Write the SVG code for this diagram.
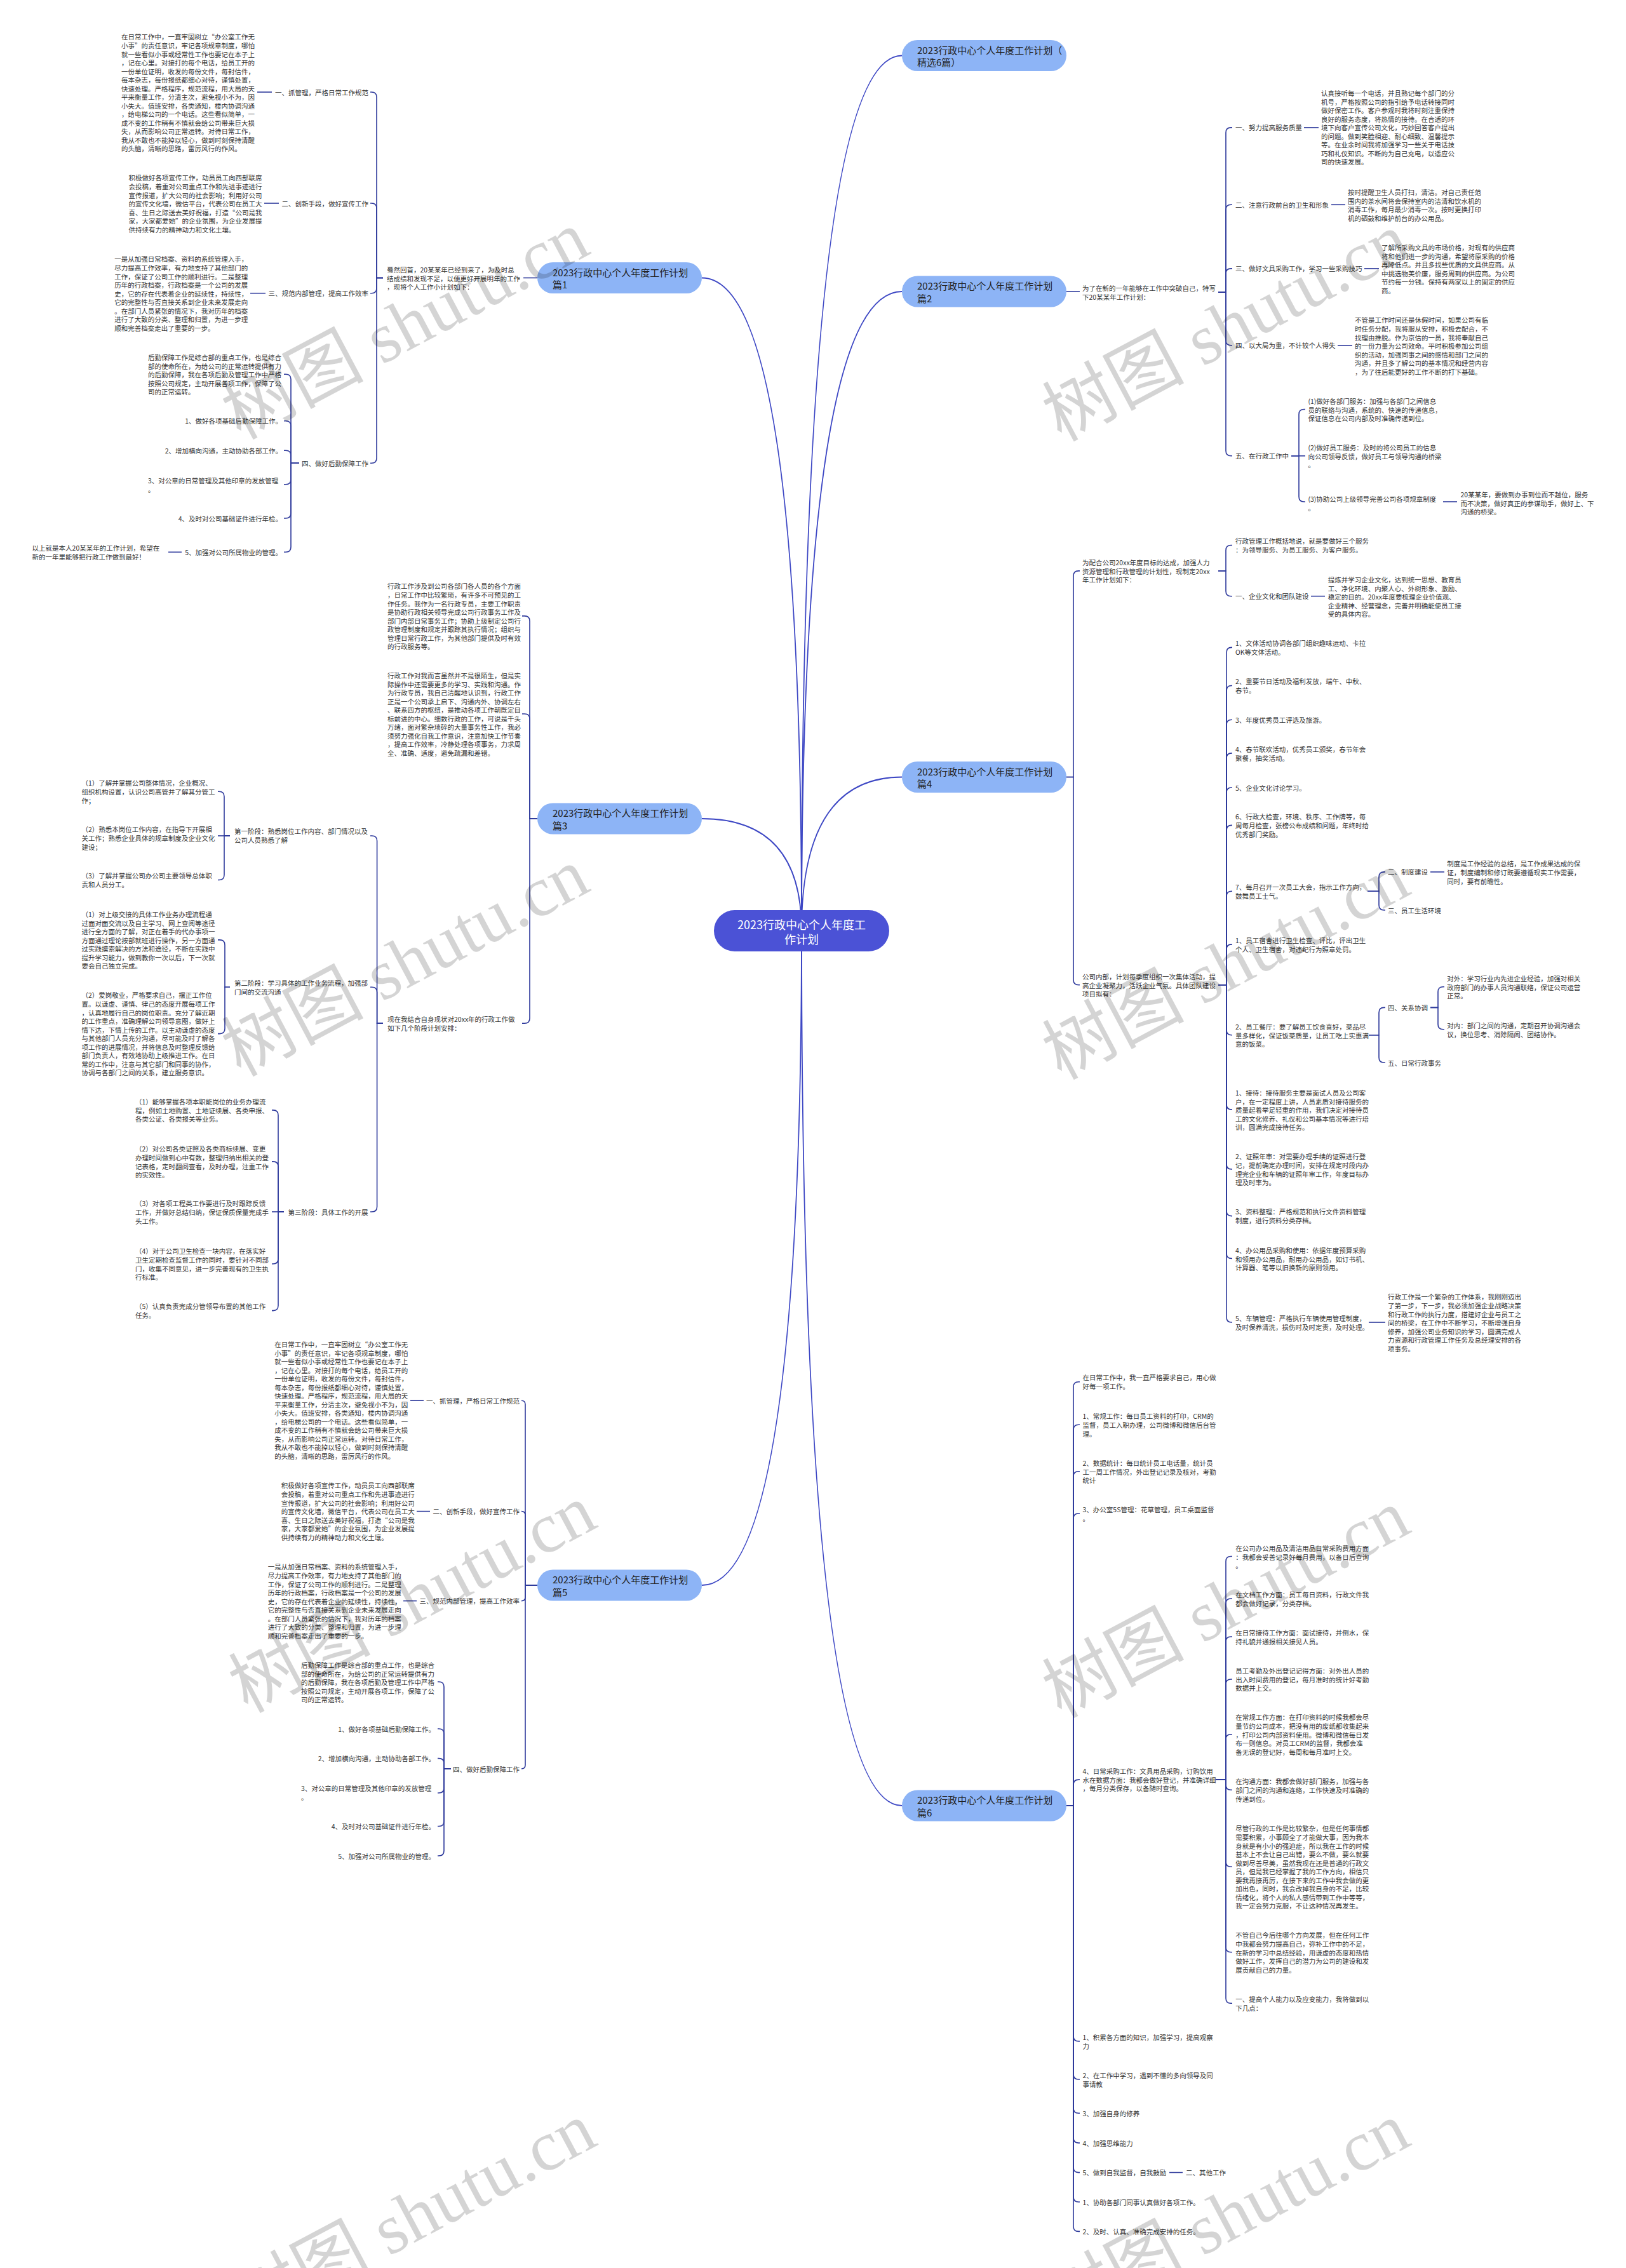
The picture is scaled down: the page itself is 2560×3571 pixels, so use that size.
<svg xmlns="http://www.w3.org/2000/svg" width="2560" height="3571" viewBox="0 0 2560 3571">
<style>
.t{font-family:"Noto Sans CJK SC","Liberation Sans",sans-serif;font-size:10.5px;fill:#333;dominant-baseline:central}
.e{text-anchor:end}
.c{fill:none;stroke:#2e3a9c;stroke-width:1.6}
.cc{fill:none;stroke:#3d47c4;stroke-width:1.8}
.pn{fill:#8db4f6}
.pt{font-family:"Noto Sans CJK SC","Liberation Sans",sans-serif;font-size:15px;fill:#222;dominant-baseline:central}
.ct{font-family:"Noto Sans CJK SC","Liberation Sans",sans-serif;font-size:18px;fill:#fff;dominant-baseline:central;text-anchor:middle}
.wm{font-family:"Liberation Serif","Noto Sans CJK SC",serif;font-size:112px;fill:#000;fill-opacity:0.17;text-anchor:middle;dominant-baseline:central}
</style>
<rect width="2560" height="3571" fill="#fff"/>
<g id="connectors">
<path class="cc" d="M1262,1465Q1262,87.5 1420,87.5"/>
<path class="cc" d="M1262,1465Q1262,459 1420,459"/>
<path class="cc" d="M1262,1465Q1262,1223.5 1420,1223.5"/>
<path class="cc" d="M1262,1465Q1262,2843 1420,2843"/>
<path class="cc" d="M1262,1465Q1262,437.5 1105,437.5"/>
<path class="cc" d="M1262,1465Q1262,1289 1105,1289"/>
<path class="cc" d="M1262,1465Q1262,2496 1105,2496"/>
<!-- plan1 -->
<path class="c" d="M846,437.5H824"/>
<path class="c" d="M603,437.5H593V153Q593,145 585,145H583"/>
<path class="c" d="M603,437.5H593V328Q593,320 585,320H583"/>
<path class="c" d="M603,437.5H593V453.7Q593,461.7 585,461.7H583"/>
<path class="c" d="M603,437.5H593V721.3Q593,729.3 585,729.3H583"/>
<path class="c" d="M428,145H405"/>
<path class="c" d="M439,320H416"/>
<path class="c" d="M418,461.7H394"/>
<path class="c" d="M471,729.3H458V597.3Q458,589.3 450,589.3H447"/>
<path class="c" d="M471,729.3H458V670.7Q458,662.7 450,662.7H447"/>
<path class="c" d="M471,729.3H458V717.3Q458,709.3 450,709.3H447"/>
<path class="c" d="M471,729.3H458V754.7Q458,762.7 450,762.7H447"/>
<path class="c" d="M471,729.3H458V808Q458,816 450,816H447"/>
<path class="c" d="M471,729.3H458V861.3Q458,869.3 450,869.3H447"/>
<path class="c" d="M286,869.3H265"/>
<!-- plan3 -->
<path class="c" d="M846,1289H834V977.9Q834,969.9 826,969.9H822"/>
<path class="c" d="M846,1289H834V1132Q834,1124 826,1124H822"/>
<path class="c" d="M846,1289H834V1603.3Q834,1611.3 826,1611.3H822"/>
<path class="c" d="M603,1611.3H593.6V1324Q593.6,1316 585.6,1316H583"/>
<path class="c" d="M603,1611.3H593.6V1562.2Q593.6,1554.2 585.6,1554.2H583"/>
<path class="c" d="M603,1611.3H593.6V1900Q593.6,1908 585.6,1908H583"/>
<path class="c" d="M362,1316H353V1254.2Q353,1246.2 345,1246.2H343"/>
<path class="c" d="M362,1316H343"/>
<path class="c" d="M362,1316H353V1377.5Q353,1385.5 345,1385.5H343"/>
<path class="c" d="M362,1554.2H354V1487.9Q354,1479.9 346,1479.9H343"/>
<path class="c" d="M362,1554.2H354V1619.6Q354,1627.6 346,1627.6H343"/>
<path class="c" d="M447,1908H438V1755.9Q438,1747.9 430,1747.9H428"/>
<path class="c" d="M447,1908H438V1836.9Q438,1828.9 430,1828.9H428"/>
<path class="c" d="M447,1908H428"/>
<path class="c" d="M447,1908H438V1982Q438,1990 430,1990H428"/>
<path class="c" d="M447,1908H438V2055.6Q438,2063.6 430,2063.6H428"/>
<!-- plan5 -->
<path class="c" d="M846,2496H827V2211.2Q827,2205.2 821,2205.2"/>
<path class="c" d="M846,2496H827V2385.6Q827,2379.6 821,2379.6"/>
<path class="c" d="M846,2496H827V2514.6Q827,2520.6 821,2520.6"/>
<path class="c" d="M846,2496H827V2779Q827,2785 821,2785"/>
<path class="c" d="M667,2205.2H646"/>
<path class="c" d="M677,2379.6H656"/>
<path class="c" d="M656,2520.6H635"/>
<path class="c" d="M710,2785H699V2656Q699,2648 691,2648H689"/>
<path class="c" d="M710,2785H699V2730Q699,2722 691,2722H689"/>
<path class="c" d="M710,2785H699V2776.6Q699,2768.6 691,2768.6H689"/>
<path class="c" d="M710,2785H699V2815Q699,2823 691,2823H689"/>
<path class="c" d="M710,2785H699V2867.5Q699,2875.5 691,2875.5H689"/>
<path class="c" d="M710,2785H699V2914Q699,2922 691,2922H689"/>
<!-- plan2 -->
<path class="c" d="M1679,459H1700"/>
<path class="c" d="M1918,460H1930V208.9Q1930,200.9 1938,200.9H1940"/>
<path class="c" d="M1918,460H1930V330.3Q1930,322.3 1938,322.3H1940"/>
<path class="c" d="M1918,460H1930V430.9Q1930,422.9 1938,422.9H1940"/>
<path class="c" d="M1918,460H1930V535.8Q1930,543.8 1938,543.8H1940"/>
<path class="c" d="M1918,460H1930V709.8Q1930,717.8 1938,717.8H1940"/>
<path class="c" d="M2053,200.9H2076"/>
<path class="c" d="M2096,322.3H2118"/>
<path class="c" d="M2148,422.9H2171"/>
<path class="c" d="M2106,543.8H2129"/>
<path class="c" d="M2033,717.8H2045V652.5Q2045,644.5 2053,644.5H2055"/>
<path class="c" d="M2033,717.8H2055"/>
<path class="c" d="M2033,717.8H2045V782Q2045,790 2053,790H2055"/>
<path class="c" d="M2272,790H2294"/>
<!-- plan4 -->
<path class="c" d="M1679,1223.5H1690V906.9Q1690,898.9 1698,898.9H1700"/>
<path class="c" d="M1679,1223.5H1690V1542.8Q1690,1550.8 1698,1550.8H1700"/>
<path class="c" d="M1918,898.9H1930V866.5Q1930,858.5 1938,858.5H1940"/>
<path class="c" d="M1918,898.9H1930V930.7Q1930,938.7 1938,938.7H1940"/>
<path class="c" d="M2064,938.7H2086"/>
<path class="c" d="M1918,1550.8H1931V1027.4Q1931,1019.4 1939,1019.4H1940"/>
<path class="c" d="M1918,1550.8H1931V1087.5Q1931,1079.5 1939,1079.5H1940"/>
<path class="c" d="M1918,1550.8H1931V1141.3Q1931,1133.3 1939,1133.3H1940"/>
<path class="c" d="M1918,1550.8H1931V1193.9Q1931,1185.9 1939,1185.9H1940"/>
<path class="c" d="M1918,1550.8H1931V1248Q1931,1240 1939,1240H1940"/>
<path class="c" d="M1918,1550.8H1931V1307.4Q1931,1299.4 1939,1299.4H1940"/>
<path class="c" d="M1918,1550.8H1931V1411.3Q1931,1403.3 1939,1403.3H1940"/>
<path class="c" d="M1918,1550.8H1931V1494.9Q1931,1486.9 1939,1486.9H1940"/>
<path class="c" d="M1918,1550.8H1931V1621.7Q1931,1629.7 1939,1629.7H1940"/>
<path class="c" d="M1918,1550.8H1931V1739.1Q1931,1747.1 1939,1747.1H1940"/>
<path class="c" d="M1918,1550.8H1931V1832.9Q1931,1840.9 1939,1840.9H1940"/>
<path class="c" d="M1918,1550.8H1931V1906.6Q1931,1914.6 1939,1914.6H1940"/>
<path class="c" d="M1918,1550.8H1931V1973.5Q1931,1981.5 1939,1981.5H1940"/>
<path class="c" d="M1918,1550.8H1931V2074Q1931,2082 1939,2082H1940"/>
<path class="c" d="M2153,1403.3H2171V1380.9Q2171,1372.9 2179,1372.9H2181"/>
<path class="c" d="M2153,1403.3H2171V1425Q2171,1433 2179,1433H2181"/>
<path class="c" d="M2252,1372.9H2274"/>
<path class="c" d="M2155,1629.7H2171V1594.4Q2171,1586.4 2179,1586.4H2181"/>
<path class="c" d="M2155,1629.7H2171V1665Q2171,1673 2179,1673H2181"/>
<path class="c" d="M2252,1586.4H2264V1561.8Q2264,1553.8 2272,1553.8H2274"/>
<path class="c" d="M2252,1586.4H2264V1612.8Q2264,1620.8 2272,1620.8H2274"/>
<path class="c" d="M2155,2082H2181"/>
<!-- plan6 -->
<path class="c" d="M1679,2843H1690V2183.8Q1690,2175.8 1698,2175.8H1700"/>
<path class="c" d="M1679,2843H1690V2251.3Q1690,2243.3 1698,2243.3H1700"/>
<path class="c" d="M1679,2843H1690V2324.8Q1690,2316.8 1698,2316.8H1700"/>
<path class="c" d="M1679,2843H1690V2391Q1690,2383 1698,2383H1700"/>
<path class="c" d="M1679,2843H1690V2810.1Q1690,2802.1 1698,2802.1H1700"/>
<path class="c" d="M1679,2843H1690V3206Q1690,3214 1698,3214H1700"/>
<path class="c" d="M1679,2843H1690V3266Q1690,3274 1698,3274H1700"/>
<path class="c" d="M1679,2843H1690V3319.2Q1690,3327.2 1698,3327.2H1700"/>
<path class="c" d="M1679,2843H1690V3366.1Q1690,3374.1 1698,3374.1H1700"/>
<path class="c" d="M1679,2843H1690V3412.6Q1690,3420.6 1698,3420.6H1700"/>
<path class="c" d="M1679,2843H1690V3459Q1690,3467 1698,3467H1700"/>
<path class="c" d="M1679,2843H1690V3505.4Q1690,3513.4 1698,3513.4H1700"/>
<path class="c" d="M1914,2802.1H1930V2458.5Q1930,2450.5 1938,2450.5H1940"/>
<path class="c" d="M1914,2802.1H1930V2525Q1930,2517 1938,2517H1940"/>
<path class="c" d="M1914,2802.1H1930V2585Q1930,2577 1938,2577H1940"/>
<path class="c" d="M1914,2802.1H1930V2652Q1930,2644 1938,2644H1940"/>
<path class="c" d="M1914,2802.1H1930V2738.8Q1930,2730.8 1938,2730.8H1940"/>
<path class="c" d="M1914,2802.1H1930V2810.3Q1930,2818.3 1938,2818.3H1940"/>
<path class="c" d="M1914,2802.1H1930V2931.3Q1930,2939.3 1938,2939.3H1940"/>
<path class="c" d="M1914,2802.1H1930V3065.8Q1930,3073.8 1938,3073.8H1940"/>
<path class="c" d="M1914,2802.1H1930V3146.3Q1930,3154.3 1938,3154.3H1940"/>
<path class="c" d="M1841,3420.6H1862"/>
</g>

<g id="center">
<rect x="1124" y="1433" width="276" height="65" rx="32.5" fill="#4b52d6"/>
<text class="ct" x="1262" y="1454.5">2023行政中心个人年度工<tspan x="1262" dy="23">作计划</tspan></text>
</g>

<g id="plan0"><rect class="pn" x="1420" y="63" width="259" height="49" rx="24.5"/><text class="pt" x="1444" y="78">2023行政中心个人年度工作计划（<tspan x="1444" dy="19">精选6篇）</tspan></text></g>
<g id="plan2"><rect class="pn" x="1420" y="434.5" width="259" height="49" rx="24.5"/><text class="pt" x="1444" y="449.5">2023行政中心个人年度工作计划<tspan x="1444" dy="19">篇2</tspan></text></g>
<g id="plan4"><rect class="pn" x="1420" y="1199" width="259" height="49" rx="24.5"/><text class="pt" x="1444" y="1214">2023行政中心个人年度工作计划<tspan x="1444" dy="19">篇4</tspan></text></g>
<g id="plan6"><rect class="pn" x="1420" y="2818.5" width="259" height="49" rx="24.5"/><text class="pt" x="1444" y="2833.5">2023行政中心个人年度工作计划<tspan x="1444" dy="19">篇6</tspan></text></g>
<g id="plan1"><rect class="pn" x="846" y="413" width="259" height="49" rx="24.5"/><text class="pt" x="870" y="428">2023行政中心个人年度工作计划<tspan x="870" dy="19">篇1</tspan></text></g>
<g id="plan3"><rect class="pn" x="846" y="1264.5" width="259" height="49" rx="24.5"/><text class="pt" x="870" y="1279.5">2023行政中心个人年度工作计划<tspan x="870" dy="19">篇3</tspan></text></g>
<g id="plan5"><rect class="pn" x="846" y="2471.5" width="259" height="49" rx="24.5"/><text class="pt" x="870" y="2486.5">2023行政中心个人年度工作计划<tspan x="870" dy="19">篇5</tspan></text></g>

<!-- plan1 texts -->
<g id="p1-intro"><text class="t" x="609" y="424">蓦然回首，20某某年已经到来了，为及时总<tspan x="609" dy="13.5">结成绩和发现不足，以便更好开展明年的工作</tspan><tspan x="609" dy="13.5">，现将个人工作小计划如下：</tspan></text></g>
<g id="p1-a"><text class="t e" x="580" y="145">一、抓管理，严格日常工作规范</text></g>
<g id="p1-a1"><text class="t" x="191" y="57.5">在日常工作中，一直牢固树立“办公室工作无<tspan x="191" dy="13.5">小事”的责任意识，牢记各项规章制度，哪怕</tspan><tspan x="191" dy="13.5">就一些看似小事或经常性工作也要记在本子上</tspan><tspan x="191" dy="13.5">，记在心里。对接打的每个电话，给员工开的</tspan><tspan x="191" dy="13.5">一份单位证明，收发的每份文件，每封信件，</tspan><tspan x="191" dy="13.5">每本杂志，每份报纸都细心对待，谨慎处置，</tspan><tspan x="191" dy="13.5">快速处理。严格程序，规范流程，用大局的天</tspan><tspan x="191" dy="13.5">平来衡量工作，分清主次，避免视小不为，因</tspan><tspan x="191" dy="13.5">小失大。值班安排，各类通知，楼内协调沟通</tspan><tspan x="191" dy="13.5">，给电梯公司的一个电话。这些看似简单，一</tspan><tspan x="191" dy="13.5">成不变的工作稍有不慎就会给公司带来巨大损</tspan><tspan x="191" dy="13.5">失，从而影响公司正常运转。对待日常工作，</tspan><tspan x="191" dy="13.5">我从不敢也不能掉以轻心，做到时刻保持清醒</tspan><tspan x="191" dy="13.5">的头脑，清晰的思路，雷厉风行的作风。</tspan></text></g>
<g id="p1-b"><text class="t e" x="580" y="320">二、创新手段，做好宣传工作</text></g>
<g id="p1-b1"><text class="t" x="202.5" y="279.5">积极做好各项宣传工作，动员员工向西部联席<tspan x="202.5" dy="13.5">会投稿，着重对公司重点工作和先进事迹进行</tspan><tspan x="202.5" dy="13.5">宣传报道，扩大公司的社会影响；利用好公司</tspan><tspan x="202.5" dy="13.5">的宣传文化墙，微信平台，代表公司在员工大</tspan><tspan x="202.5" dy="13.5">喜、生日之际送去美好祝福，打造“公司是我</tspan><tspan x="202.5" dy="13.5">家，大家都爱她”的企业氛围，为企业发展提</tspan><tspan x="202.5" dy="13.5">供持续有力的精神动力和文化土壤。</tspan></text></g>
<g id="p1-c"><text class="t e" x="580" y="461.7">三、规范内部管理，提高工作效率</text></g>
<g id="p1-c1"><text class="t" x="180.3" y="407.7">一是从加强日常档案、资料的系统管理入手，<tspan x="180.3" dy="13.5">尽力提高工作效率，有力地支持了其他部门的</tspan><tspan x="180.3" dy="13.5">工作，保证了公司工作的顺利进行。二是整理</tspan><tspan x="180.3" dy="13.5">历年的行政档案，行政档案是一个公司的发展</tspan><tspan x="180.3" dy="13.5">史，它的存在代表着企业的延续性，持续性，</tspan><tspan x="180.3" dy="13.5">它的完整性与否直接关系到企业未来发展走向</tspan><tspan x="180.3" dy="13.5">。在部门人员紧张的情况下，我对历年的档案</tspan><tspan x="180.3" dy="13.5">进行了大致的分类、整理和归置，为进一步理</tspan><tspan x="180.3" dy="13.5">顺和完善档案走出了重要的一步。</tspan></text></g>
<g id="p1-d"><text class="t e" x="580" y="729.3">四、做好后勤保障工作</text></g>
<g id="p1-d0"><text class="t" x="233" y="562.3">后勤保障工作是综合部的重点工作，也是综合<tspan x="233" dy="13.5">部的使命所在，为给公司的正常运转提供有力</tspan><tspan x="233" dy="13.5">的后勤保障，我在各项后勤及管理工作中严格</tspan><tspan x="233" dy="13.5">按照公司规定，主动开展各项工作，保障了公</tspan><tspan x="233" dy="13.5">司的正常运转。</tspan></text></g>
<g id="p1-d1"><text class="t e" x="444" y="662.7">1、做好各项基础后勤保障工作。</text></g>
<g id="p1-d2"><text class="t e" x="444" y="709.3">2、增加横向沟通，主动协助各部工作。</text></g>
<g id="p1-d3"><text class="t" x="233" y="756">3、对公章的日常管理及其他印章的发放管理<tspan x="233" dy="13.5">。</tspan></text></g>
<g id="p1-d4"><text class="t e" x="444" y="816">4、及时对公司基础证件进行年检。</text></g>
<g id="p1-d5"><text class="t e" x="444" y="869.3">5、加强对公司所属物业的管理。</text></g>
<g id="p1-end"><text class="t" x="50.6" y="862.7">以上就是本人20某某年的工作计划，希望在<tspan x="50.6" dy="13.5">新的一年里能够把行政工作做到最好！</tspan></text></g>

<!-- plan3 texts -->
<g id="p3-a"><text class="t" x="610" y="922.7">行政工作涉及到公司各部门各人员的各个方面<tspan x="610" dy="13.5">，日常工作中比较繁琐，有许多不可预见的工</tspan><tspan x="610" dy="13.5">作任务。我作为一名行政专员，主要工作职责</tspan><tspan x="610" dy="13.5">是协助行政相关领导完成公司行政事务工作及</tspan><tspan x="610" dy="13.5">部门内部日常事务工作；协助上级制定公司行</tspan><tspan x="610" dy="13.5">政管理制度和规定并跟踪其执行情况；组织与</tspan><tspan x="610" dy="13.5">管理日常行政工作，为其他部门提供及时有效</tspan><tspan x="610" dy="13.5">的行政服务等。</tspan></text></g>
<g id="p3-b"><text class="t" x="610" y="1063.3">行政工作对我而言虽然并不是很陌生，但是实<tspan x="610" dy="13.5">际操作中还需要更多的学习、实践和沟通。作</tspan><tspan x="610" dy="13.5">为行政专员，我自己清醒地认识到，行政工作</tspan><tspan x="610" dy="13.5">正是一个公司承上启下、沟通内外、协调左右</tspan><tspan x="610" dy="13.5">、联系四方的枢纽，是推动各项工作朝既定目</tspan><tspan x="610" dy="13.5">标前进的中心。细数行政的工作，可说是千头</tspan><tspan x="610" dy="13.5">万绪，面对繁杂琐碎的大量事务性工作，我必</tspan><tspan x="610" dy="13.5">须努力强化自我工作意识，注意加快工作节奏</tspan><tspan x="610" dy="13.5">，提高工作效率，冷静处理各项事务，力求周</tspan><tspan x="610" dy="13.5">全、准确、适度，避免疏漏和差错。</tspan></text></g>
<g id="p3-c"><text class="t" x="610" y="1604.6">现在我结合自身现状对20xx年的行政工作做<tspan x="610" dy="13.5">如下几个阶段计划安排：</tspan></text></g>
<g id="p3-s1"><text class="t" x="369" y="1308.5">第一阶段：熟悉岗位工作内容、部门情况以及<tspan x="369" dy="13.5">公司人员熟悉了解</tspan></text></g>
<g id="p3-s1a"><text class="t" x="128.5" y="1232.7">（1）了解并掌握公司整体情况，企业概况、<tspan x="128.5" dy="13.5">组织机构设置，认识公司高管并了解其分管工</tspan><tspan x="128.5" dy="13.5">作；</tspan></text></g>
<g id="p3-s1b"><text class="t" x="128.5" y="1305.5">（2）熟悉本岗位工作内容，在指导下开展相<tspan x="128.5" dy="13.5">关工作；熟悉企业具体的规章制度及企业文化</tspan><tspan x="128.5" dy="13.5">建设；</tspan></text></g>
<g id="p3-s1c"><text class="t" x="128.5" y="1378.7">（3）了解并掌握公司办公司主要领导总体职<tspan x="128.5" dy="13.5">责和人员分工。</tspan></text></g>
<g id="p3-s2"><text class="t" x="369" y="1547.4">第二阶段：学习具体的工作业务流程，加强部<tspan x="369" dy="13.5">门间的交流沟通</tspan></text></g>
<g id="p3-s2a"><text class="t" x="128.5" y="1439.4">（1）对上级交接的具体工作业务办理流程通<tspan x="128.5" dy="13.5">过面对面交流以及自主学习、网上查阅等途径</tspan><tspan x="128.5" dy="13.5">进行全方面的了解，对正在着手的代办事项一</tspan><tspan x="128.5" dy="13.5">方面通过理论按部就班进行操作，另一方面通</tspan><tspan x="128.5" dy="13.5">过实践摸索解决的方法和途径，不断在实践中</tspan><tspan x="128.5" dy="13.5">提升学习能力，做到教你一次以后，下一次就</tspan><tspan x="128.5" dy="13.5">要会自己独立完成。</tspan></text></g>
<g id="p3-s2b"><text class="t" x="128.5" y="1566.8">（2）爱岗敬业，严格要求自己，摆正工作位<tspan x="128.5" dy="13.5">置。以谦虚、谨慎、律己的态度开展每项工作</tspan><tspan x="128.5" dy="13.5">，认真地履行自己的岗位职责。充分了解近期</tspan><tspan x="128.5" dy="13.5">的工作重点，准确理解公司领导意图，做好上</tspan><tspan x="128.5" dy="13.5">情下达，下情上传的工作。以主动谦虚的态度</tspan><tspan x="128.5" dy="13.5">与其他部门人员充分沟通，尽可能及时了解各</tspan><tspan x="128.5" dy="13.5">项工作的进展情况，并将信息及时整理反馈给</tspan><tspan x="128.5" dy="13.5">部门负责人，有效地协助上级推进工作。在日</tspan><tspan x="128.5" dy="13.5">常的工作中，注意与其它部门和同事的协作，</tspan><tspan x="128.5" dy="13.5">协调与各部门之间的关系，建立服务意识。</tspan></text></g>
<g id="p3-s3"><text class="t" x="453.6" y="1908">第三阶段：具体工作的开展</text></g>
<g id="p3-s3a"><text class="t" x="213" y="1734.4">（1）能够掌握各项本职能岗位的业务办理流<tspan x="213" dy="13.5">程，例如土地购置、土地证续展、各类申报、</tspan><tspan x="213" dy="13.5">各类公证、各类报关等业务。</tspan></text></g>
<g id="p3-s3b"><text class="t" x="213" y="1808.6">（2）对公司各类证照及各类商标续展、变更<tspan x="213" dy="13.5">办理时间做到心中有数，整理归纳出相关的登</tspan><tspan x="213" dy="13.5">记表格，定时翻阅查看，及时办理，注重工作</tspan><tspan x="213" dy="13.5">的实效性。</tspan></text></g>
<g id="p3-s3c"><text class="t" x="213" y="1894.5">（3）对各项工程类工作要进行及时跟踪反馈<tspan x="213" dy="13.5">工作，并做好总结归纳，保证保质保量完成手</tspan><tspan x="213" dy="13.5">头工作。</tspan></text></g>
<g id="p3-s3d"><text class="t" x="213" y="1969.7">（4）对于公司卫生检查一块内容，在落实好<tspan x="213" dy="13.5">卫生定期检查监督工作的同时，要针对不同部</tspan><tspan x="213" dy="13.5">门，收集不同意见，进一步完善现有的卫生执</tspan><tspan x="213" dy="13.5">行标准。</tspan></text></g>
<g id="p3-s3e"><text class="t" x="213" y="2056.8">（5）认真负责完成分管领导布置的其他工作<tspan x="213" dy="13.5">任务。</tspan></text></g>

<!-- plan5 texts -->
<g id="p5-a"><text class="t e" x="818" y="2205.2">一、抓管理，严格日常工作规范</text></g>
<g id="p5-a1"><text class="t" x="432.3" y="2116.3">在日常工作中，一直牢固树立“办公室工作无<tspan x="432.3" dy="13.5">小事”的责任意识，牢记各项规章制度，哪怕</tspan><tspan x="432.3" dy="13.5">就一些看似小事或经常性工作也要记在本子上</tspan><tspan x="432.3" dy="13.5">，记在心里。对接打的每个电话，给员工开的</tspan><tspan x="432.3" dy="13.5">一份单位证明，收发的每份文件，每封信件，</tspan><tspan x="432.3" dy="13.5">每本杂志，每份报纸都细心对待，谨慎处置，</tspan><tspan x="432.3" dy="13.5">快速处理。严格程序，规范流程，用大局的天</tspan><tspan x="432.3" dy="13.5">平来衡量工作，分清主次，避免视小不为，因</tspan><tspan x="432.3" dy="13.5">小失大。值班安排，各类通知，楼内协调沟通</tspan><tspan x="432.3" dy="13.5">，给电梯公司的一个电话。这些看似简单，一</tspan><tspan x="432.3" dy="13.5">成不变的工作稍有不慎就会给公司带来巨大损</tspan><tspan x="432.3" dy="13.5">失，从而影响公司正常运转。对待日常工作，</tspan><tspan x="432.3" dy="13.5">我从不敢也不能掉以轻心，做到时刻保持清醒</tspan><tspan x="432.3" dy="13.5">的头脑，清晰的思路，雷厉风行的作风。</tspan></text></g>
<g id="p5-b"><text class="t e" x="818" y="2379.6">二、创新手段，做好宣传工作</text></g>
<g id="p5-b1"><text class="t" x="442.7" y="2338.6">积极做好各项宣传工作，动员员工向西部联席<tspan x="442.7" dy="13.5">会投稿，着重对公司重点工作和先进事迹进行</tspan><tspan x="442.7" dy="13.5">宣传报道，扩大公司的社会影响；利用好公司</tspan><tspan x="442.7" dy="13.5">的宣传文化墙，微信平台，代表公司在员工大</tspan><tspan x="442.7" dy="13.5">喜、生日之际送去美好祝福，打造“公司是我</tspan><tspan x="442.7" dy="13.5">家，大家都爱她”的企业氛围，为企业发展提</tspan><tspan x="442.7" dy="13.5">供持续有力的精神动力和文化土壤。</tspan></text></g>
<g id="p5-c"><text class="t e" x="818" y="2520.6">三、规范内部管理，提高工作效率</text></g>
<g id="p5-c1"><text class="t" x="421.7" y="2466.6">一是从加强日常档案、资料的系统管理入手，<tspan x="421.7" dy="13.5">尽力提高工作效率，有力地支持了其他部门的</tspan><tspan x="421.7" dy="13.5">工作，保证了公司工作的顺利进行。二是整理</tspan><tspan x="421.7" dy="13.5">历年的行政档案，行政档案是一个公司的发展</tspan><tspan x="421.7" dy="13.5">史，它的存在代表着企业的延续性，持续性，</tspan><tspan x="421.7" dy="13.5">它的完整性与否直接关系到企业未来发展走向</tspan><tspan x="421.7" dy="13.5">。在部门人员紧张的情况下，我对历年的档案</tspan><tspan x="421.7" dy="13.5">进行了大致的分类、整理和归置，为进一步理</tspan><tspan x="421.7" dy="13.5">顺和完善档案走出了重要的一步。</tspan></text></g>
<g id="p5-d"><text class="t e" x="818" y="2785">四、做好后勤保障工作</text></g>
<g id="p5-d0"><text class="t" x="474" y="2621">后勤保障工作是综合部的重点工作，也是综合<tspan x="474" dy="13.5">部的使命所在，为给公司的正常运转提供有力</tspan><tspan x="474" dy="13.5">的后勤保障，我在各项后勤及管理工作中严格</tspan><tspan x="474" dy="13.5">按照公司规定，主动开展各项工作，保障了公</tspan><tspan x="474" dy="13.5">司的正常运转。</tspan></text></g>
<g id="p5-d1"><text class="t e" x="685" y="2722">1、做好各项基础后勤保障工作。</text></g>
<g id="p5-d2"><text class="t e" x="685" y="2768.6">2、增加横向沟通，主动协助各部工作。</text></g>
<g id="p5-d3"><text class="t" x="474" y="2815.2">3、对公章的日常管理及其他印章的发放管理<tspan x="474" dy="13.5">。</tspan></text></g>
<g id="p5-d4"><text class="t e" x="685" y="2875.5">4、及时对公司基础证件进行年检。</text></g>
<g id="p5-d5"><text class="t e" x="685" y="2922">5、加强对公司所属物业的管理。</text></g>

<!-- plan2 texts -->
<g id="p2-intro"><text class="t" x="1704" y="453.5">为了在新的一年能够在工作中突破自己，特写<tspan x="1704" dy="13.5">下20某某年工作计划：</tspan></text></g>
<g id="p2-a"><text class="t" x="1945" y="200.9">一、努力提高服务质量</text></g>
<g id="p2-a1"><text class="t" x="2080" y="146.3">认真接听每一个电话，并且熟记每个部门的分<tspan x="2080" dy="13.5">机号，严格按照公司的指引给予电话转接同时</tspan><tspan x="2080" dy="13.5">做好保密工作。客户参观时我将时刻注重保持</tspan><tspan x="2080" dy="13.5">良好的服务态度，将热情的接待。在合适的环</tspan><tspan x="2080" dy="13.5">境下向客户宣传公司文化，巧妙回答客户提出</tspan><tspan x="2080" dy="13.5">的问题。做到笑脸相迎、耐心细致、温馨提示</tspan><tspan x="2080" dy="13.5">等。在业余时间我将加强学习一些关于电话技</tspan><tspan x="2080" dy="13.5">巧和礼仪知识。不断的为自己充电，以适应公</tspan><tspan x="2080" dy="13.5">司的快速发展。</tspan></text></g>
<g id="p2-b"><text class="t" x="1945" y="322.3">二、注意行政前台的卫生和形象</text></g>
<g id="p2-b1"><text class="t" x="2122" y="302">按时提醒卫生人员打扫，清洁。对自己责任范<tspan x="2122" dy="13.5">围内的茶水间将会保持室内的洁清和饮水机的</tspan><tspan x="2122" dy="13.5">消毒工作，每月最少消毒一次。按时更换打印</tspan><tspan x="2122" dy="13.5">机的硒鼓和维护前台的办公用品。</tspan></text></g>
<g id="p2-c"><text class="t" x="1945" y="422.9">三、做好文具采购工作，学习一些采购技巧</text></g>
<g id="p2-c1"><text class="t" x="2175" y="389">了解所采购文具的市场价格，对现有的供应商<tspan x="2175" dy="13.5">将和他们进一步的沟通，希望将原采购的价格</tspan><tspan x="2175" dy="13.5">再降低点。并且多找些优质的文具供应商。从</tspan><tspan x="2175" dy="13.5">中挑选物美价廉，服务周到的供应商。为公司</tspan><tspan x="2175" dy="13.5">节约每一分钱。保持有两家以上的固定的供应</tspan><tspan x="2175" dy="13.5">商。</tspan></text></g>
<g id="p2-d"><text class="t" x="1945" y="543.8">四、以大局为重，不计较个人得失</text></g>
<g id="p2-d1"><text class="t" x="2133" y="503.5">不管是工作时间还是休假时间，如果公司有临<tspan x="2133" dy="13.5">时任务分配，我将服从安排，积极去配合，不</tspan><tspan x="2133" dy="13.5">找理由推脱。作为京信的一员，我将奉献自己</tspan><tspan x="2133" dy="13.5">的一份力量为公司效命。平时积极参加公司组</tspan><tspan x="2133" dy="13.5">织的活动，加强同事之间的感情和部门之间的</tspan><tspan x="2133" dy="13.5">沟通，并且多了解公司的基本情况和经营内容</tspan><tspan x="2133" dy="13.5">，为了往后能更好的工作不断的打下基础。</tspan></text></g>
<g id="p2-e"><text class="t" x="1945" y="717.8">五、在行政工作中</text></g>
<g id="p2-e1"><text class="t" x="2059.4" y="631">(1)做好各部门服务：加强与各部门之间信息<tspan x="2059.4" dy="13.5">员的联络与沟通，系统的、快速的传递信息，</tspan><tspan x="2059.4" dy="13.5">保证信息在公司内部及时准确传递到位。</tspan></text></g>
<g id="p2-e2"><text class="t" x="2059.4" y="704">(2)做好员工服务：及时的将公司员工的信息<tspan x="2059.4" dy="13.5">向公司领导反馈，做好员工与领导沟通的桥梁</tspan><tspan x="2059.4" dy="13.5">。</tspan></text></g>
<g id="p2-e3"><text class="t" x="2059.4" y="785.1">(3)协助公司上级领导完善公司各项规章制度<tspan x="2059.4" dy="13.5">。</tspan></text></g>
<g id="p2-e3a"><text class="t" x="2299.5" y="778">20某某年，要做到办事到位而不越位，服务<tspan x="2299.5" dy="13.5">而不决策，做好真正的参谋助手，做好上、下</tspan><tspan x="2299.5" dy="13.5">沟通的桥梁。</tspan></text></g>

<!-- plan4 texts -->
<g id="p4-intro"><text class="t" x="1704" y="885.4">为配合公司20xx年度目标的达成，加强人力<tspan x="1704" dy="13.5">资源管理和行政管理的计划性，现制定20xx</tspan><tspan x="1704" dy="13.5">年工作计划如下：</tspan></text></g>
<g id="p4-a"><text class="t" x="1945" y="851.7">行政管理工作概括地说，就是要做好三个服务<tspan x="1945" dy="13.5">：为领导服务、为员工服务、为客户服务。</tspan></text></g>
<g id="p4-b"><text class="t" x="1945" y="938.7">一、企业文化和团队建设</text></g>
<g id="p4-b1"><text class="t" x="2090.8" y="912.2">提炼并学习企业文化，达到统一思想、教育员<tspan x="2090.8" dy="13.5">工、净化环境、内聚人心、外树形象、激励、</tspan><tspan x="2090.8" dy="13.5">稳定的目的。20xx年度要梳理企业价值观、</tspan><tspan x="2090.8" dy="13.5">企业精神、经营理念，完善并明确能使员工接</tspan><tspan x="2090.8" dy="13.5">受的具体内容。</tspan></text></g>
<g id="p4-in"><text class="t" x="1704" y="1537.3">公司内部，计划每季度组织一次集体活动，提<tspan x="1704" dy="13.5">高企业凝聚力，活跃企业气氛。具体团队建设</tspan><tspan x="1704" dy="13.5">项目拟有：</tspan></text></g>
<g id="p4-i1"><text class="t" x="1945" y="1012.7">1、文体活动协调各部门组织趣味运动、卡拉<tspan x="1945" dy="13.5">OK等文体活动。</tspan></text></g>
<g id="p4-i2"><text class="t" x="1945" y="1072.8">2、重要节日活动及福利发放，端午、中秋、<tspan x="1945" dy="13.5">春节。</tspan></text></g>
<g id="p4-i3"><text class="t" x="1945" y="1133.3">3、年度优秀员工评选及旅游。</text></g>
<g id="p4-i4"><text class="t" x="1945" y="1179.1">4、春节联欢活动，优秀员工颁奖，春节年会<tspan x="1945" dy="13.5">聚餐，抽奖活动。</tspan></text></g>
<g id="p4-i5"><text class="t" x="1945" y="1240">5、企业文化讨论学习。</text></g>
<g id="p4-i6"><text class="t" x="1945" y="1285.9">6、行政大检查，环境、秩序、工作牌等，每<tspan x="1945" dy="13.5">周每月检查，张榜公布成绩和问题，年终时给</tspan><tspan x="1945" dy="13.5">优秀部门奖励。</tspan></text></g>
<g id="p4-i7"><text class="t" x="1945" y="1396.6">7、每月召开一次员工大会，指示工作方向，<tspan x="1945" dy="13.5">鼓舞员工士气。</tspan></text></g>
<g id="p4-i7a"><text class="t" x="2185" y="1372.9">二、制度建设</text></g>
<g id="p4-i7a1"><text class="t" x="2278.2" y="1359.9">制度是工作经验的总结，是工作成果达成的保<tspan x="2278.2" dy="13.5">证，制度编制和修订既要遵循现实工作需要，</tspan><tspan x="2278.2" dy="13.5">同时，要有前瞻性。</tspan></text></g>
<g id="p4-i7b"><text class="t" x="2185" y="1433">三、员工生活环境</text></g>
<g id="p4-j1"><text class="t" x="1945" y="1480.2">1、员工宿舍进行卫生检查、评比，评出卫生<tspan x="1945" dy="13.5">个人、卫生宿舍，对违纪行为照章处罚。</tspan></text></g>
<g id="p4-j2"><text class="t" x="1945" y="1616.3">2、员工餐厅：要了解员工饮食喜好，菜品尽<tspan x="1945" dy="13.5">量多样化，保证饭菜质量，让员工吃上实惠满</tspan><tspan x="1945" dy="13.5">意的饭菜。</tspan></text></g>
<g id="p4-j2a"><text class="t" x="2185" y="1586.4">四、关系协调</text></g>
<g id="p4-j2a1"><text class="t" x="2278.2" y="1540.4">对外：学习行业内先进企业经验，加强对相关<tspan x="2278.2" dy="13.5">政府部门的办事人员沟通联络，保证公司运营</tspan><tspan x="2278.2" dy="13.5">正常。</tspan></text></g>
<g id="p4-j2a2"><text class="t" x="2278.2" y="1614.1">对内：部门之间的沟通，定期召开协调沟通会<tspan x="2278.2" dy="13.5">议，换位思考、消除隔阂、团结协作。</tspan></text></g>
<g id="p4-j2b"><text class="t" x="2185" y="1673">五、日常行政事务</text></g>
<g id="p4-k1"><text class="t" x="1945" y="1720.4">1、接待：接待服务主要是面试人员及公司客<tspan x="1945" dy="13.5">户，在一定程度上讲，人员素质对接待服务的</tspan><tspan x="1945" dy="13.5">质量起着举足轻重的作用，我们决定对接待员</tspan><tspan x="1945" dy="13.5">工的文化修养、礼仪和公司基本情况等进行培</tspan><tspan x="1945" dy="13.5">训，圆满完成接待任务。</tspan></text></g>
<g id="p4-k2"><text class="t" x="1945" y="1820.8">2、证照年审：对需要办理手续的证照进行登<tspan x="1945" dy="13.5">记，提前确定办理时间，安排在规定时段内办</tspan><tspan x="1945" dy="13.5">理完企业和车辆的证照年审工作，年度目标办</tspan><tspan x="1945" dy="13.5">理及时率为。</tspan></text></g>
<g id="p4-k3"><text class="t" x="1945" y="1907.9">3、资料整理：严格规范和执行文件资料管理<tspan x="1945" dy="13.5">制度，进行资料分类存档。</tspan></text></g>
<g id="p4-k4"><text class="t" x="1945" y="1968.1">4、办公用品采购和使用：依据年度预算采购<tspan x="1945" dy="13.5">和领用办公用品，耐用办公用品，如订书机、</tspan><tspan x="1945" dy="13.5">计算器、笔等以旧换新的原则领用。</tspan></text></g>
<g id="p4-k5"><text class="t" x="1945" y="2075.3">5、车辆管理：严格执行车辆使用管理制度，<tspan x="1945" dy="13.5">及时保养清洗，损伤时及时定责，及时处理。</tspan></text></g>
<g id="p4-k5a"><text class="t" x="2185" y="2041.8">行政工作是一个繁杂的工作体系，我刚刚迈出<tspan x="2185" dy="13.5">了第一步，下一步，我必须加强企业战略决策</tspan><tspan x="2185" dy="13.5">和行政工作的执行力度，搭建好企业与员工之</tspan><tspan x="2185" dy="13.5">间的桥梁，在工作中不断学习，不断增强自身</tspan><tspan x="2185" dy="13.5">修养，加强公司业务知识的学习，圆满完成人</tspan><tspan x="2185" dy="13.5">力资源和行政管理工作任务及总经理安排的各</tspan><tspan x="2185" dy="13.5">项事务。</tspan></text></g>

<!-- plan6 texts -->
<g id="p6-a"><text class="t" x="1704.5" y="2168.9">在日常工作中，我一直严格要求自己，用心做<tspan x="1704.5" dy="13.5">好每一项工作。</tspan></text></g>
<g id="p6-b"><text class="t" x="1704.5" y="2229.5">1、常规工作：每日员工资料的打印，CRM的<tspan x="1704.5" dy="13.5">监督，员工入职办理，公司微博和微信后台管</tspan><tspan x="1704.5" dy="13.5">理。</tspan></text></g>
<g id="p6-c"><text class="t" x="1704.5" y="2303">2、数据统计：每日统计员工电话量，统计员<tspan x="1704.5" dy="13.5">工一周工作情况，外出登记记录及核对，考勤</tspan><tspan x="1704.5" dy="13.5">统计</tspan></text></g>
<g id="p6-d"><text class="t" x="1704.5" y="2376.5">3、办公室5S管理：花草管理，员工桌面监督<tspan x="1704.5" dy="13.5">。</tspan></text></g>
<g id="p6-e"><text class="t" x="1704.5" y="2788.3">4、日常采购工作：文具用品采购，订购饮用<tspan x="1704.5" dy="13.5">水在数据方面：我都会做好登记，并准确详细</tspan><tspan x="1704.5" dy="13.5">，每月分类保存，以备随时查询。</tspan></text></g>
<g id="p6-e1"><text class="t" x="1945.3" y="2437">在公司办公用品及清洁用品日常采购费用方面<tspan x="1945.3" dy="13.5">：我都会妥善记录好每月费用，以备日后查询</tspan><tspan x="1945.3" dy="13.5">。</tspan></text></g>
<g id="p6-e2"><text class="t" x="1945.3" y="2510">在文档工作方面：员工每日资料，行政文件我<tspan x="1945.3" dy="13.5">都会做好记录，分类存档。</tspan></text></g>
<g id="p6-e3"><text class="t" x="1945.3" y="2570.2">在日常接待工作方面：面试接待，并倒水，保<tspan x="1945.3" dy="13.5">持礼貌并通报相关接见人员。</tspan></text></g>
<g id="p6-e4"><text class="t" x="1945.3" y="2630.4">员工考勤及外出登记记得方面：对外出人员的<tspan x="1945.3" dy="13.5">出入时间费用的登记，每月准时的统计好考勤</tspan><tspan x="1945.3" dy="13.5">数据并上交。</tspan></text></g>
<g id="p6-e5"><text class="t" x="1945.3" y="2703.8">在常规工作方面：在打印资料的时候我都会尽<tspan x="1945.3" dy="13.5">量节约公司成本，把没有用的废纸都收集起来</tspan><tspan x="1945.3" dy="13.5">，打印公司内部资料使用。微博和微信每日发</tspan><tspan x="1945.3" dy="13.5">布一则信息。对员工CRM的监督，我都会准</tspan><tspan x="1945.3" dy="13.5">备无误的登记好，每周和每月准时上交。</tspan></text></g>
<g id="p6-e6"><text class="t" x="1945.3" y="2804.8">在沟通方面：我都会做好部门服务，加强与各<tspan x="1945.3" dy="13.5">部门之间的沟通和连络，工作快速及时准确的</tspan><tspan x="1945.3" dy="13.5">传递到位。</tspan></text></g>
<g id="p6-e7"><text class="t" x="1945.3" y="2878.5">尽管行政的工作是比较繁杂，但是任何事情都<tspan x="1945.3" dy="13.5">需要积累，小事顾全了才能做大事，因为我本</tspan><tspan x="1945.3" dy="13.5">身就是有小小的强迫症，所以我在工作的时候</tspan><tspan x="1945.3" dy="13.5">基本上不会让自己出错，要么不做，要么就要</tspan><tspan x="1945.3" dy="13.5">做到尽善尽美，虽然我现在还是普通的行政文</tspan><tspan x="1945.3" dy="13.5">员，但是我已经掌握了我的工作方向，相信只</tspan><tspan x="1945.3" dy="13.5">要我再接再厉，在接下来的工作中我会做的更</tspan><tspan x="1945.3" dy="13.5">加出色，同时，我会改掉我自身的不足，比较</tspan><tspan x="1945.3" dy="13.5">情绪化，将个人的私人感情带到工作中等等，</tspan><tspan x="1945.3" dy="13.5">我一定会努力克服，不让这种情况再发生。</tspan></text></g>
<g id="p6-e8"><text class="t" x="1945.3" y="3046.8">不管自己今后往哪个方向发展，但在任何工作<tspan x="1945.3" dy="13.5">中我都会努力提高自己，弥补工作中的不足，</tspan><tspan x="1945.3" dy="13.5">在新的学习中总结经验，用谦虚的态度和热情</tspan><tspan x="1945.3" dy="13.5">做好工作，发挥自己的潜力为公司的建设和发</tspan><tspan x="1945.3" dy="13.5">展贡献自己的力量。</tspan></text></g>
<g id="p6-e9"><text class="t" x="1945.3" y="3147.5">一、提高个人能力以及应变能力，我将做到以<tspan x="1945.3" dy="13.5">下几点：</tspan></text></g>
<g id="p6-f"><text class="t" x="1704.5" y="3207.2">1、积累各方面的知识，加强学习，提高观察<tspan x="1704.5" dy="13.5">力</tspan></text></g>
<g id="p6-g"><text class="t" x="1704.5" y="3267">2、在工作中学习，遇到不懂的多向领导及同<tspan x="1704.5" dy="13.5">事请教</tspan></text></g>
<g id="p6-h"><text class="t" x="1704.5" y="3327.2">3、加强自身的修养</text></g>
<g id="p6-i"><text class="t" x="1704.5" y="3374.1">4、加强思维能力</text></g>
<g id="p6-j"><text class="t" x="1704.5" y="3420.6">5、做到自我监督，自我鼓励</text></g>
<g id="p6-j1"><text class="t" x="1867" y="3420.6">二、其他工作</text></g>
<g id="p6-k"><text class="t" x="1704.5" y="3467">1、协助各部门同事认真做好各项工作。</text></g>
<g id="p6-l"><text class="t" x="1704.5" y="3513.4">2、及时、认真、准确完成安排的任务。</text></g>

<g id="watermark">
<text class="wm" transform="translate(638,512) rotate(-28)">树图 shutu.cn</text>
<text class="wm" transform="translate(1930,515) rotate(-28)">树图 shutu.cn</text>
<text class="wm" transform="translate(638,1515) rotate(-28)">树图 shutu.cn</text>
<text class="wm" transform="translate(1930,1520) rotate(-28)">树图 shutu.cn</text>
<text class="wm" transform="translate(649,2517) rotate(-28)">树图 shutu.cn</text>
<text class="wm" transform="translate(1930,2525) rotate(-28)">树图 shutu.cn</text>
<text class="wm" transform="translate(649,3490) rotate(-28)">树图 shutu.cn</text>
<text class="wm" transform="translate(1930,3490) rotate(-28)">树图 shutu.cn</text>
</g>
</svg>
